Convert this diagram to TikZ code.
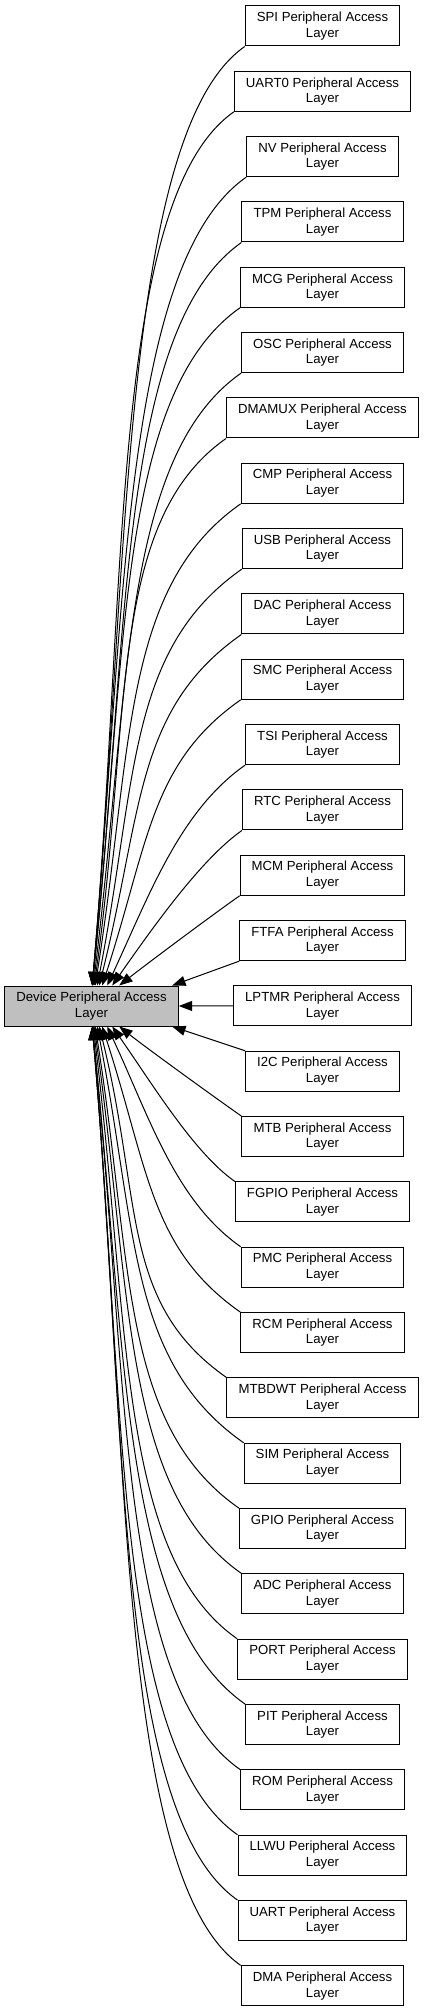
\documentclass[tikz,border=0pt]{standalone}
\usepackage{fontspec}
\setmainfont{Liberation Sans}
\usetikzlibrary{arrows.meta}

\begin{document}
\begin{tikzpicture}[
  x=0.75pt, y=0.75pt,
  box/.style={draw, line width=0.75pt, minimum height=30pt, inner xsep=8.7pt, inner ysep=0pt, align=center, font=\fontsize{9.9}{11.6}\selectfont},
  dep/.style={-{Triangle[length=10pt,width=7.5pt]}, line width=0.75pt}
]
\useasboundingbox (0,0) rectangle (424,-2012);
\node[box, fill=gray!50] (dev) at (91.5,-1006) {Device Peripheral Access\\Layer};
\foreach \n [count=\i from 0] in {SPI,UART0,NV,TPM,MCG,OSC,DMAMUX,CMP,USB,DAC,SMC,TSI,RTC,MCM,FTFA,
    LPTMR,I2C,MTB,FGPIO,PMC,RCM,MTBDWT,SIM,GPIO,ADC,PORT,PIT,ROM,LLWU,UART,DMA}
  \node[box] (\n) at (322.5,-26-65.33*\i) {\n{} Peripheral Access\\Layer};
% groups above the device layer
\foreach \n/\o/\t/\a/\b in {SPI/88/85/150/420, UART0/88/85/150/400, NV/88/85/150/380, TPM/88/84/150/350,
    MCG/88/84/150/330, OSC/89/83/145/300, DMAMUX/90/82/145/270, CMP/91/81/145/240, USB/93/79/140/210,
    DAC/95/76/130/180, SMC/98/72/110/150, TSI/103/65/80/100, RTC/108/55/50/70, MCM/115/38/30/40}
  \draw[dep] (\n.south west) .. controls +(215:\a) and +(\t:\b) .. ([shift={(\o,0)}]dev.north west);
% groups below the device layer
\foreach \n/\o/\t/\a/\b in {DMA/88/85/150/420, UART/88/85/150/400, LLWU/88/85/150/380, ROM/88/84/150/350,
    PIT/88/84/150/330, PORT/89/83/145/300, ADC/90/82/145/270, GPIO/91/81/145/240, SIM/93/79/140/210,
    MTBDWT/95/76/130/180, RCM/98/72/110/150, PMC/103/65/80/100, FGPIO/108/55/50/70, MTB/115/38/30/40}
  \draw[dep] (\n.north west) .. controls +(145:\a) and +(-\t:\b) .. ([shift={(\o,0)}]dev.south west);
\draw[dep] (FTFA.south west) -- ([shift={(168,0)}]dev.north west);
\draw[dep] (LPTMR) -- (dev);
\draw[dep] (I2C.north west) -- ([shift={(168,0)}]dev.south west);
\end{tikzpicture}
\end{document}
